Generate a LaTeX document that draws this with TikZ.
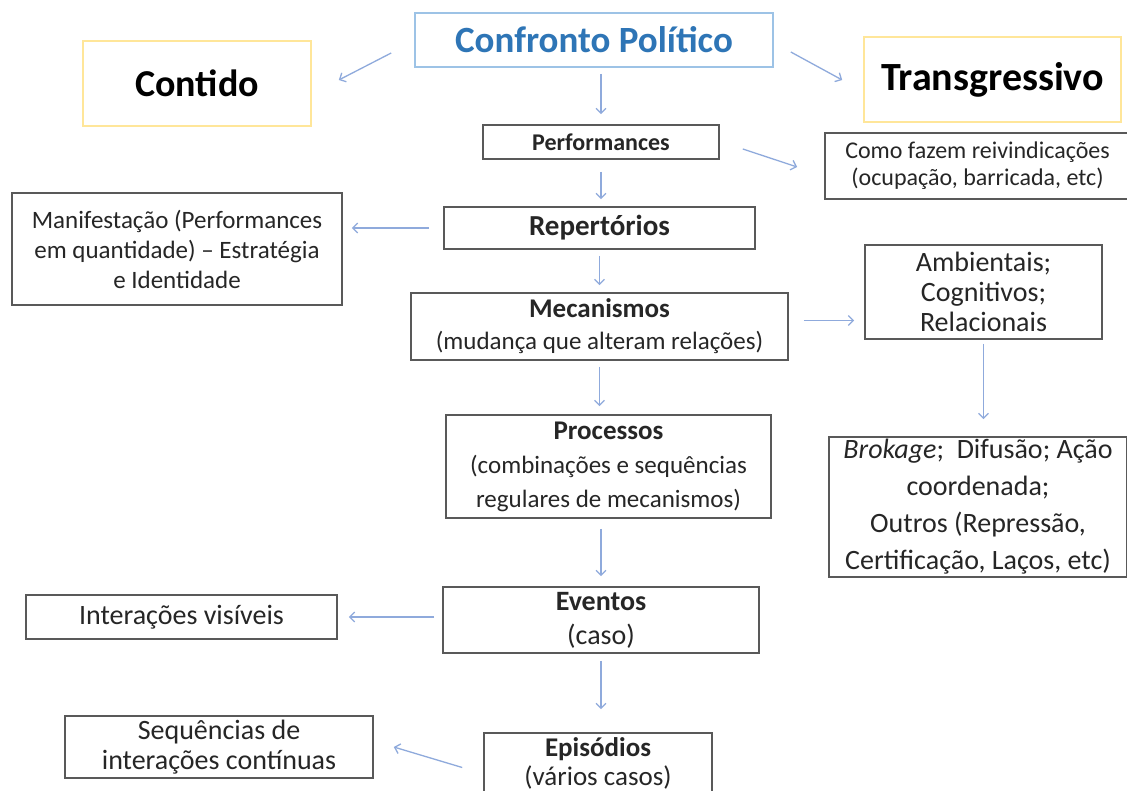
\documentclass[tikz,border=0pt]{standalone}
\usepackage{fontspec}
\setmainfont{Carlito}
\usetikzlibrary{calc,arrows.meta}

\definecolor{boxgray}{HTML}{595959}
\definecolor{arrblue}{HTML}{8FAADC}
\definecolor{titleblue}{HTML}{2E75B6}
\definecolor{titleframe}{HTML}{9DC3E6}
\definecolor{yellowframe}{HTML}{FFE699}
\definecolor{txt}{HTML}{262626}

\tikzset{
  box/.style={draw=boxgray, line width=1.6pt, align=center, inner sep=0pt, text=txt},
  arr/.style={->, draw=arrblue, line width=1.3pt},
}
\newcommand{\fs}[2]{\fontsize{#1}{#2}\selectfont}

\begin{document}
\begin{tikzpicture}[x=1pt,y=-1pt,>={Straight Barb[length=5pt,width=10pt]}]
  \useasboundingbox[fill=white] (0,0) rectangle (1127,791);
  \clip (0,0) rectangle (1127,791);

  % top row
  \node[box, draw=titleframe, text=titleblue, minimum width=358, minimum height=54,
        font=\fs{37}{42}\bfseries] (conf) at (594,40) {Confronto Político};
  \node[box, draw=yellowframe, minimum width=228, minimum height=85,
        font=\fs{38}{42}\bfseries, text=black] (cont) at (197,83.5) {Contido};
  \node[box, draw=yellowframe, minimum width=257, minimum height=85,
        font=\fs{40}{44}\bfseries, text=black] (trans) at (992.5,79.5) {Transgressivo};

  % central column
  \node[box, minimum width=236, minimum height=34, font=\fs{24}{28}\bfseries] (perf) at (601,142) {Performances};
  \node[box, minimum width=311, minimum height=42, font=\fs{29}{32}\bfseries] (rep) at (599.5,228) {Repertórios};
  \node[box, minimum width=377, minimum height=67, font=\fs{25}{32}] (mec) at (599.5,326.5)
    {{\fs{27}{32}\textbf{Mecanismos}}\\(mudança que alteram relações)};
  \node[box, minimum width=325, minimum height=103, font=\fs{25}{34}] (proc) at (608.5,466.5)
    {{\fs{27}{34}\textbf{Processos}}\\(combinações e sequências\\regulares de mecanismos)};
  \node[box, minimum width=316, minimum height=66, font=\fs{28}{34}] (evt) at (601,620)
    {\textbf{Eventos}\\(caso)};
  \node[box, minimum width=228, minimum height=60, font=\fs{27}{29}] (epi) at (598,763)
    {\textbf{Episódios}\\(vários casos)};

  % side boxes
  \node[box, minimum width=305, minimum height=66, font=\fs{24}{27}] (como) at (977.5,166)
    {Como fazem reivindicações\\(ocupação, barricada, etc)};
  \node[box, minimum width=330, minimum height=112, font=\fs{25}{30}] (man) at (177,249)
    {Manifestação (Performances\\em quantidade) -- Estratégia\\e Identidade};
  \node[box, minimum width=237, minimum height=94, font=\fs{28}{30}] (amb) at (983.5,292)
    {Ambientais;\\Cognitivos;\\Relacionais};
  \node[box, minimum width=298, minimum height=140, font=\fs{28}{37}] (brok) at (978,507)
    {\textit{Brokage};\ \ Difusão; Ação\\coordenada;\\Outros (Repressão,\\Certificação, Laços, etc)};
  \node[box, minimum width=311, minimum height=44, font=\fs{28}{30}] (inter) at (181.5,617) {Interações visíveis};
  \node[box, minimum width=308, minimum height=62, font=\fs{28}{30}] (seq) at (219,747)
    {Sequências de\\interações contínuas};

  % arrows
  \draw[arr] ($(conf.west)+(-23,13)$) -- ($(cont.east)+(27,-3.5)$);
  \draw[arr] ($(conf.east)+(17,12)$) -- ($(trans.west)+(-21,0.5)$);
  \draw[arr, shorten <=6, shorten >=10] (conf.south -| perf.north) -- (perf.north);
  \draw[arr] ($(perf.east)+(23,7)$) -- ($(como.west)+(-27,1)$);
  \draw[arr, shorten <=12, shorten >=7] (perf.south) -- (perf.south |- rep.north);
  \draw[arr, shorten <=14, shorten >=9] (rep.west) -- (rep.west -| man.east);
  \draw[arr, shorten <=6, shorten >=7] (rep.south) -- (mec.north);
  \draw[arr, shorten <=15, shorten >=10] ($(mec.east)+(0,-6)$) -- ($(mec.east -| amb.west)+(0,-6)$);
  \draw[arr, shorten <=4, shorten >=17] (amb.south) -- (amb.south |- brok.north);
  \draw[arr, shorten <=6, shorten >=8] (mec.south) -- (mec.south |- proc.north);
  \draw[arr, shorten <=10, shorten >=10] (evt.north |- proc.south) -- (evt.north);
  \draw[arr, shorten <=8, shorten >=11] ($(evt.west)+(0,-3)$) -- (inter.east);
  \draw[arr, shorten <=7, shorten >=23] (evt.south) -- (evt.south |- epi.north);
  \draw[arr] ($(epi.west)+(-21,4.5)$) -- ($(seq.east)+(20,0)$);
\end{tikzpicture}
\end{document}
